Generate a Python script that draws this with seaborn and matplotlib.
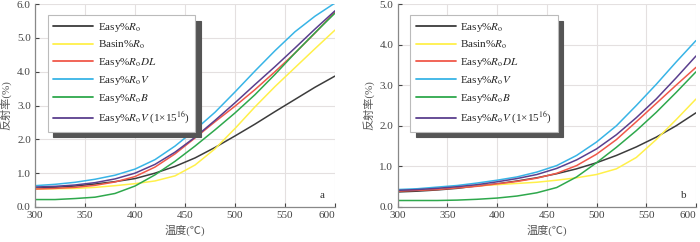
import numpy as np
import pandas as pd

import matplotlib
matplotlib.use("Agg")
import matplotlib.pyplot as plt
import seaborn as sns

# temperature (°C)
temps = [300, 320, 340, 360, 380, 400, 420, 440, 460, 480, 500, 520, 540, 560, 580, 600]

labels = [
    r"Easy%$\it{R}_\mathrm{o}$",
    r"Basin%$\it{R}_\mathrm{o}$",
    r"Easy%$\it{R}_\mathrm{o}\it{DL}$",
    r"Easy%$\it{R}_\mathrm{o}\it{V}$",
    r"Easy%$\it{R}_\mathrm{o}\it{B}$",
    r"Easy%$\it{R}_\mathrm{o}\it{V}$ (1×15$^{16}$)",
]
colors = ["#3c3c3c", "#fff04a", "#f0584a", "#38b4e6", "#2ea84c", "#5a3f8e"]

# panel a
a_easy = [0.56, 0.58, 0.62, 0.68, 0.75, 0.84, 1.00, 1.20, 1.45, 1.76, 2.10, 2.45, 2.82, 3.18, 3.54, 3.87]
a_basin = [0.53, 0.54, 0.55, 0.58, 0.63, 0.69, 0.77, 0.92, 1.24, 1.72, 2.32, 2.96, 3.56, 4.12, 4.68, 5.23]
a_dl = [0.53, 0.55, 0.58, 0.64, 0.74, 0.90, 1.18, 1.57, 2.04, 2.52, 2.98, 3.47, 4.00, 4.55, 5.14, 5.77]
a_v = [0.63, 0.67, 0.73, 0.82, 0.94, 1.12, 1.40, 1.80, 2.28, 2.80, 3.40, 4.02, 4.62, 5.18, 5.64, 6.03]
a_b = [0.22, 0.22, 0.25, 0.29, 0.40, 0.62, 0.95, 1.35, 1.80, 2.28, 2.78, 3.32, 3.92, 4.55, 5.15, 5.73]
a_v16 = [0.59, 0.61, 0.65, 0.72, 0.83, 1.00, 1.26, 1.62, 2.06, 2.56, 3.08, 3.62, 4.15, 4.70, 5.26, 5.80]

# panel b
b_easy = [0.37, 0.39, 0.42, 0.46, 0.52, 0.57, 0.64, 0.72, 0.82, 0.94, 1.09, 1.27, 1.48, 1.72, 2.00, 2.32]
b_basin = [0.41, 0.43, 0.46, 0.49, 0.52, 0.55, 0.58, 0.61, 0.66, 0.72, 0.80, 0.94, 1.22, 1.66, 2.15, 2.66]
b_dl = [0.39, 0.41, 0.43, 0.47, 0.51, 0.57, 0.63, 0.71, 0.83, 1.02, 1.30, 1.66, 2.10, 2.55, 3.00, 3.44]
b_v = [0.43, 0.45, 0.49, 0.53, 0.59, 0.66, 0.74, 0.86, 1.02, 1.27, 1.60, 2.00, 2.50, 3.02, 3.57, 4.10]
b_b = [0.16, 0.16, 0.16, 0.17, 0.19, 0.22, 0.27, 0.35, 0.48, 0.74, 1.09, 1.47, 1.88, 2.33, 2.82, 3.33]
b_v16 = [0.41, 0.43, 0.46, 0.50, 0.55, 0.62, 0.70, 0.80, 0.95, 1.16, 1.43, 1.78, 2.20, 2.66, 3.18, 3.72]


def to_long(series):
    rows = []
    for lb, vals in zip(labels, series):
        for t, r in zip(temps, vals):
            rows.append((t, r, lb))
    return pd.DataFrame(rows, columns=["T", "R", "curve"])


sns.set_style("whitegrid", {"grid.color": "#e4e0e0", "axes.edgecolor": "#888888"})
plt.rcParams["font.family"] = ["Liberation Serif", "Noto Sans CJK SC"]
plt.rcParams["mathtext.fontset"] = "stix"
plt.rcParams["axes.unicode_minus"] = False

fig = plt.figure(figsize=(7.0, 2.42), dpi=100)
ax1 = fig.add_axes([35 / 700, 35 / 242, 300 / 700, 203 / 242])
ax2 = fig.add_axes([397.5 / 700, 35 / 242, 298.5 / 700, 203 / 242])

panels = [
    (ax1, [a_easy, a_basin, a_dl, a_v, a_b, a_v16], 6.0, "a"),
    (ax2, [b_easy, b_basin, b_dl, b_v, b_b, b_v16], 5.0, "b"),
]

for ax, series, ymax, tag in panels:
    df = to_long(series)
    sns.lineplot(data=df, x="T", y="R", hue="curve", hue_order=labels,
                 palette=colors, linewidth=1.1, ax=ax, legend=False)
    ax.set_xlim(300, 600)
    ax.set_ylim(0, ymax)
    ax.set_xticks(range(300, 601, 50))
    ax.set_yticks(np.arange(0, ymax + 0.01, 1.0))
    ax.set_yticklabels([f"{v:.1f}" for v in np.arange(0, ymax + 0.01, 1.0)])
    ax.tick_params(labelsize=8, colors="#444444", length=3, direction="in",
                   left=True, bottom=True, pad=3)
    ax.get_xticklabels()[-1].set_horizontalalignment("right")
    for s in ["top", "right"]:
        ax.spines[s].set_visible(False)
    for s in ["left", "bottom"]:
        ax.spines[s].set_linewidth(0.9)
    ax.set_xlabel("温度(℃)", fontsize=8, color="#555555", labelpad=3)
    ax.set_ylabel("反射率(%)", fontsize=8, color="#555555", labelpad=4)
    ax.text(0.95, 0.045, tag, transform=ax.transAxes, fontsize=8, color="#333333")

    handles = [plt.Line2D([], [], color=c, lw=1.3) for c in colors]
    leg = ax.legend(handles, labels, loc="upper left", bbox_to_anchor=(0.043, 0.946),
                    borderaxespad=0, fontsize=8, frameon=True, fancybox=False,
                    handlelength=3.6, handletextpad=0.4, labelspacing=0.45,
                    borderpad=0.5,
                    shadow={"ox": 4, "oy": -4, "color": "#555555", "alpha": 1})
    leg.get_frame().set_edgecolor("#bbbbbb")
    leg.get_frame().set_linewidth(0.8)
    leg.get_frame().set_alpha(1)

fig.savefig("out.png", dpi=100)
